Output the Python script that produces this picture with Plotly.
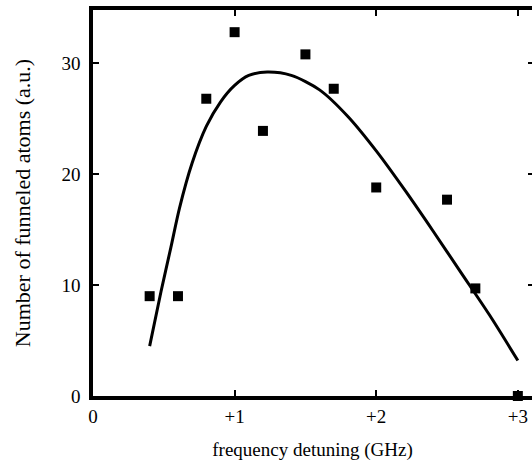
import plotly.graph_objects as go

# Measured data points
det_x = [0.4, 0.6, 0.8, 1.0, 1.2, 1.5, 1.7, 2.0, 2.5, 2.7, 3.0]
atoms_y = [9.0, 9.0, 26.8, 32.8, 23.9, 30.8, 27.7, 18.8, 17.7, 9.7, 0.0]

# Fitted curve
fit_x = [0.40, 0.48, 0.55, 0.61, 0.70, 0.80, 0.90, 1.00, 1.10, 1.23, 1.40, 1.60, 1.80, 2.00, 2.20, 2.40, 2.60, 2.80, 3.00]
fit_y = [4.5, 9.4, 13.4, 16.9, 21.0, 24.3, 26.5, 28.0, 28.9, 29.2, 28.9, 27.6, 25.2, 22.1, 18.6, 14.9, 11.1, 7.3, 3.2]

x_tickvals = [0, 1, 2, 3]
x_ticktext = ["0", "+1", "+2", "+3"]
y_tickvals = [0, 10, 20, 30]
y_ticktext = ["0", "10", "20", "30"]

FONT = "Liberation Serif"

fig = go.Figure()
fig.add_trace(go.Scatter(x=fit_x, y=fit_y, mode="lines",
                         line=dict(color="black", width=3, shape="spline", smoothing=0.8),
                         showlegend=False, hoverinfo="skip"))
fig.add_trace(go.Scatter(x=det_x, y=atoms_y, mode="markers",
                         marker=dict(symbol="square", size=10, color="black"),
                         cliponaxis=False, showlegend=False))
# invisible trace to create right-side tick marks
fig.add_trace(go.Scatter(x=[None], y=[None], yaxis="y2", showlegend=False))

fig.update_layout(
    width=532, height=466,
    margin=dict(l=93, r=0, t=10, b=70),
    paper_bgcolor="white", plot_bgcolor="white",
    font=dict(family=FONT, size=18, color="black"),
    xaxis=dict(range=[0, 3.1], tickvals=x_tickvals, ticktext=x_ticktext,
               showgrid=False, zeroline=False, showline=True, linecolor="black",
               linewidth=3.5, mirror="ticks", ticks="inside", ticklen=6, tickwidth=2,
               tickcolor="black", ticklabelstandoff=0, tickfont=dict(size=19),
               title=dict(text="frequency detuning (GHz)", font=dict(size=19), standoff=18)),
    yaxis=dict(range=[0, 34.8], tickvals=y_tickvals, ticktext=y_ticktext,
               showgrid=False, zeroline=False, showline=True, linecolor="black",
               linewidth=3.5, mirror=False, ticks="inside", ticklen=6, tickwidth=2,
               tickcolor="black", ticklabelstandoff=5, tickfont=dict(size=19),
               title=dict(text="Number of funneled atoms (a.u.)", font=dict(size=22), standoff=26)),
    yaxis2=dict(range=[0, 34.8], overlaying="y", side="right", tickvals=y_tickvals,
                showticklabels=False, showgrid=False, zeroline=False, showline=False,
                ticks="inside", ticklen=4, tickwidth=2, tickcolor="black"),
)

fig.write_html("out.html")
